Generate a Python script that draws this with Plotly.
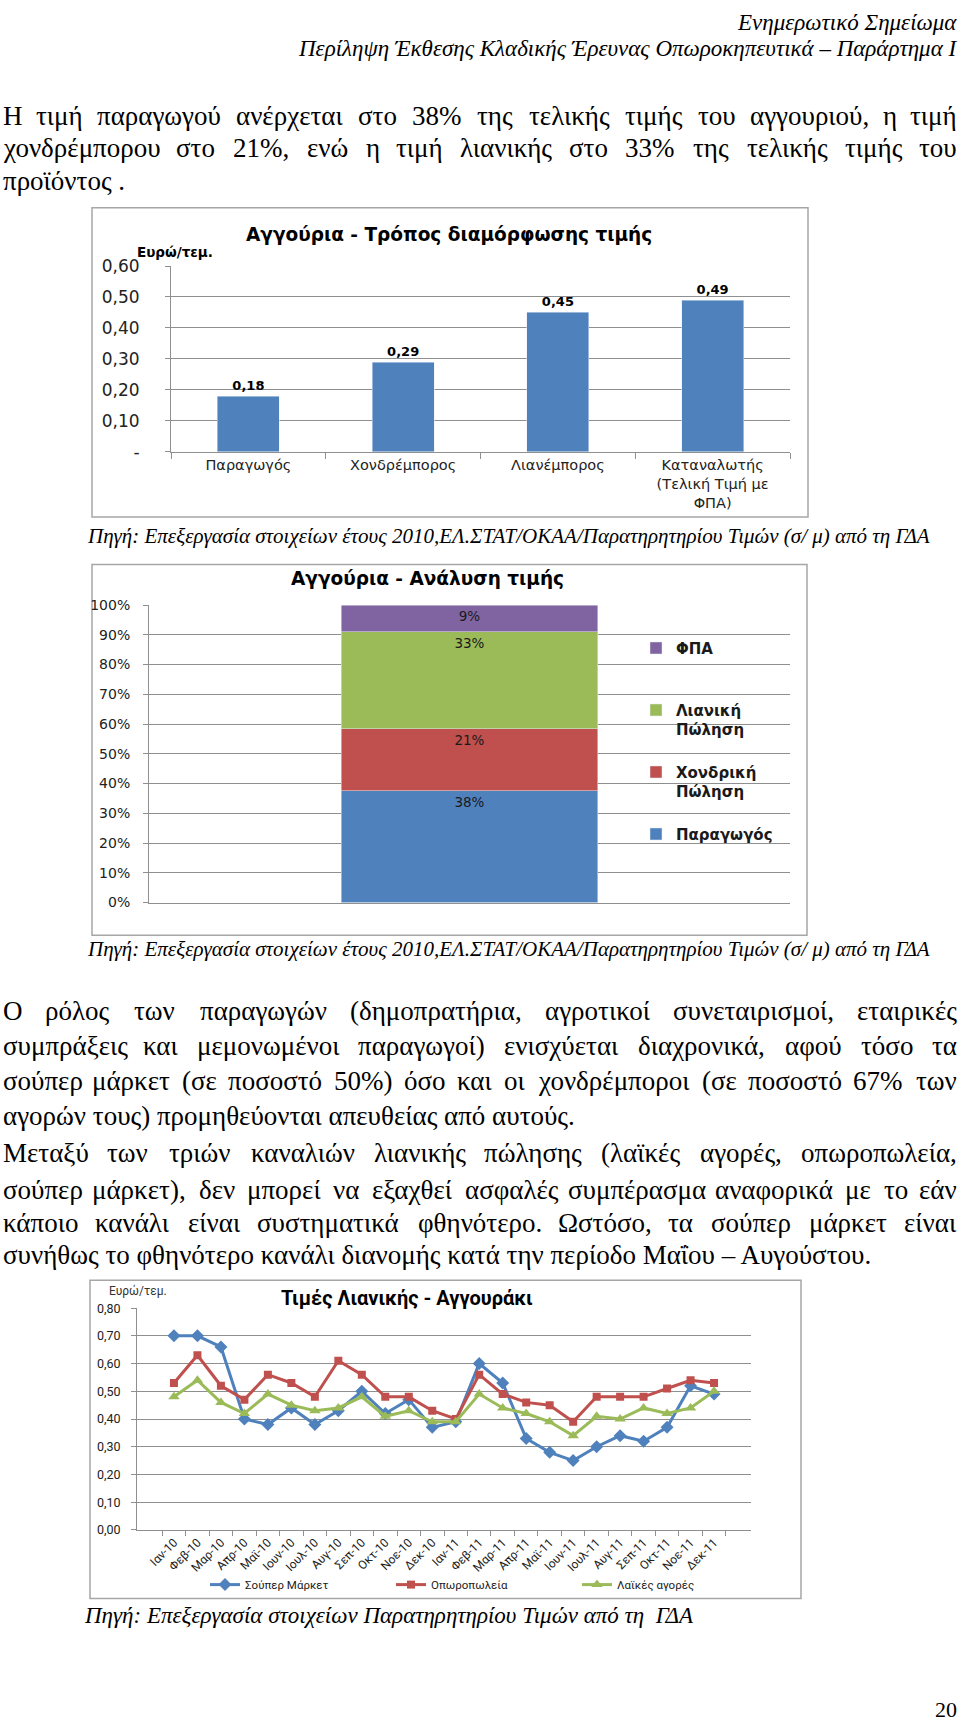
import plotly.graph_objects as go

W, H = 960, 1731
BLUE, RED, GREEN, PURPLE = '#4F81BD', '#C0504D', '#9BBB59', '#8064A2'
GRID = '#8f8f8f'
SERIF = 'Liberation Serif'
SANS = 'DejaVu Sans'
CALIBRI = 'Roboto'

# chart 1 - price build-up per piece
stages = ['Παραγωγός', 'Χονδρέμπορος', 'Λιανέμπορος', 'Καταναλωτής<br>(Τελική Τιμή με<br>ΦΠΑ)']
stage_price = [0.18, 0.29, 0.45, 0.49]
price_ticks = [0, 0.1, 0.2, 0.3, 0.4, 0.5, 0.6]
price_tick_text = ['-', '0,10', '0,20', '0,30', '0,40', '0,50', '0,60']

# chart 2 - breakdown of the final price
share_names = ['Παραγωγός<br> ', 'Χονδρική<br>Πώληση', 'Λιανική<br>Πώληση', 'ΦΠΑ<br> ']
share_values = [38, 21, 33, 9]
share_colors = [BLUE, RED, GREEN, PURPLE]
pct_ticks = [0, 10, 20, 30, 40, 50, 60, 70, 80, 90, 100]

# chart 3 - monthly retail prices
months = ['Ιαν-10', 'Φεβ-10', 'Μαρ-10', 'Απρ-10', 'Μαϊ-10', 'Ιουν-10', 'Ιουλ-10', 'Αυγ-10',
          'Σεπ-10', 'Οκτ-10', 'Νοε-10', 'Δεκ-10', 'Ιαν-11', 'Φεβ-11', 'Μαρ-11', 'Απρ-11',
          'Μαϊ-11', 'Ιουν-11', 'Ιουλ-11', 'Αυγ-11', 'Σεπ-11', 'Οκτ-11', 'Νοε-11', 'Δεκ-11']
super_market = [0.70, 0.70, 0.66, 0.40, 0.38, 0.44, 0.38, 0.43, 0.50, 0.42, 0.47, 0.37,
                0.39, 0.60, 0.53, 0.33, 0.28, 0.25, 0.30, 0.34, 0.32, 0.37, 0.52, 0.49]
fruit_shops = [0.53, 0.63, 0.52, 0.47, 0.56, 0.53, 0.48, 0.61, 0.56, 0.48, 0.48, 0.43,
               0.40, 0.56, 0.49, 0.46, 0.45, 0.39, 0.48, 0.48, 0.48, 0.51, 0.54, 0.53]
street_markets = [0.48, 0.54, 0.46, 0.42, 0.49, 0.45, 0.43, 0.44, 0.48, 0.41, 0.43, 0.39,
                  0.39, 0.49, 0.44, 0.42, 0.39, 0.34, 0.41, 0.40, 0.44, 0.42, 0.44, 0.50]

# page text
header = ['Ενημερωτικό Σημείωμα',
          'Περίληψη Έκθεσης Κλαδικής Έρευνας Οπωροκηπευτικά – Παράρτημα Ι']
para1 = ['Η τιμή παραγωγού ανέρχεται στο 38% της τελικής τιμής του αγγουριού, η τιμή',
         'χονδρέμπορου στο 21%, ενώ η τιμή λιανικής στο 33% της τελικής τιμής του',
         'προϊόντος .']
para2 = ['Ο ρόλος των παραγωγών (δημοπρατήρια, αγροτικοί συνεταιρισμοί, εταιρικές',
         'συμπράξεις και μεμονωμένοι παραγωγοί) ενισχύεται διαχρονικά, αφού τόσο τα',
         'σούπερ μάρκετ (σε ποσοστό 50%) όσο και οι χονδρέμποροι (σε ποσοστό 67% των',
         'αγορών τους) προμηθεύονται απευθείας από αυτούς.']
para3 = ['Μεταξύ των τριών καναλιών λιανικής πώλησης (λαϊκές αγορές, οπωροπωλεία,',
         'σούπερ μάρκετ), δεν μπορεί να εξαχθεί ασφαλές συμπέρασμα αναφορικά με το εάν',
         'κάποιο κανάλι είναι συστηματικά φθηνότερο. Ωστόσο, τα σούπερ μάρκετ είναι',
         'συνήθως το φθηνότερο κανάλι διανομής κατά την περίοδο Μαΐου – Αυγούστου.']
source_elstat = 'Πηγή: Επεξεργασία στοιχείων έτους 2010,ΕΛ.ΣΤΑΤ/ΟΚΑΑ/Παρατηρητηρίου Τιμών (σ/ μ) από τη ΓΔΑ'
source_gda = 'Πηγή: Επεξεργασία στοιχείων Παρατηρητηρίου Τιμών από τη  ΓΔΑ'
BODY = 27


def px(x):
    return x / W


def py(y):
    return 1 - y / H


# rough Times glyph widths (em) used to spread justified lines
EM = {}
for chars, w in [(' ,.', 0.25), ('ιίϊΐ', 0.27), ('()', 0.33), ('εέςζξτ', 0.43),
                 ('γχλνυύ', 0.46), ('φ', 0.63), ('ψ', 0.66), ('ωώ', 0.68),
                 ('ΗΟΔΑΧΣ', 0.72), ('%', 0.83), ('Μ', 0.89)]:
    for c in chars:
        EM[c] = w


def text(s, x, y, size, anchor='left', family=SERIF, **font):
    return dict(text=s, x=px(x), y=py(y), xref='paper', yref='paper', showarrow=False,
                xanchor=anchor, yanchor='middle', borderpad=0,
                font=dict(family=family, size=size, color=font.pop('color', 'black'), **font))


def justified(line, y, size=BODY, left=2, right=958):
    words = line.split(' ')
    widths = [size * sum(EM.get(c, 0.5) for c in wd) for wd in words]
    gap = (right - left - sum(widths)) / (len(words) - 1)
    out, x = [], left
    for i, (wd, w) in enumerate(zip(words, widths)):
        if i == 0:
            out.append(text(wd, left, y, size))
        elif i == len(words) - 1:
            out.append(text(wd, right, y, size, 'right'))
        else:
            out.append(text(wd, x + w / 2, y, size, 'center'))
        x += w + gap
    return out


fig = go.Figure()

fig.add_trace(go.Bar(
    x=stages, y=stage_price, xaxis='x', yaxis='y', width=0.4, marker_color=BLUE,
    texttemplate='%{y:.2f}', textposition='outside', cliponaxis=False, showlegend=False,
    textfont=dict(family=SANS, size=13, color='black', weight='bold')))

total = sum(share_values)
for rank, (name, v, c) in enumerate(zip(share_names, share_values, share_colors)):
    fig.add_trace(go.Bar(
        x=['Αγγούρια'], y=[v * 100 / total], text=[f'{v}%'], name=name, legendgroup=name,
        legendrank=10 - rank, xaxis='x2', yaxis='y2', width=0.4, marker_color=c, legend='legend',
        textposition='inside', insidetextanchor='end', textangle=0,
        textfont=dict(family=SANS, size=13.5, color='#1a1a1a')))

for name, vals, c, sym, size in [('Σούπερ Μάρκετ', super_market, BLUE, 'diamond', 10),
                                  ('Οπωροπωλεία', fruit_shops, RED, 'square', 8),
                                  ('Λαϊκές αγορές', street_markets, GREEN, 'triangle-up', 10)]:
    fig.add_trace(go.Scatter(
        x=months, y=vals, name=name, mode='lines+markers', xaxis='x3', yaxis='y3',
        line=dict(color=c, width=3), marker=dict(symbol=sym, size=size, color=c),
        legend='legend2'))

axis = dict(showline=True, linecolor=GRID, tickcolor=GRID, zeroline=False, fixedrange=True)

annotations = [
    text(header[0], 958, 13, 23, 'right', style='italic'),
    text(header[1], 958, 39, 23, 'right', style='italic'),
    text(para1[2], 2, 173, BODY),
    text(source_elstat, 86, 532, 21, style='italic'),
    text(source_elstat, 86, 950, 21, style='italic'),
    text(para2[3], 2, 1119, BODY),
    text(para3[3], 2, 1260, BODY),
    text(source_gda, 83, 1624, 23, style='italic'),
    text('20', 958, 1719, 22, 'right'),
    text('Αγγούρια - Τρόπος διαμόρφωσης τιμής', 449, 227, 18.5, 'center', SANS, weight='bold'),
    text('Ευρώ/τεμ.', 136, 245, 13.5, 'left', SANS, weight='bold'),
    text('Αγγούρια - Ανάλυση τιμής', 427, 575, 18.5, 'center', SANS, weight='bold'),
    text('Τιμές Λιανικής - Αγγουράκι', 407, 1303, 20, 'center', CALIBRI, weight='bold'),
    text('Ευρώ/τεμ.', 108, 1296, 12, 'left', CALIBRI, color='#333'),
]
for line, y in zip(para1[:2], [107, 140]):
    annotations += justified(line, y)
for line, y in zip(para2[:3], [1013, 1048, 1084]):
    annotations += justified(line, y)
for line, y in zip(para3[:3], [1156, 1194, 1227]):
    annotations += justified(line, y)

frames = [(92, 200, 808, 513), (92, 561, 807, 936), (90, 1285, 801, 1607)]
shapes = [dict(type='rect', xref='paper', yref='paper', x0=px(a), x1=px(c), y0=py(b), y1=py(d),
               line=dict(color='#a6a6a6', width=1.5), layer='below') for a, b, c, d in frames]

fig.update_layout(
    width=W, height=H, margin=dict(l=0, r=0, t=0, b=0),
    paper_bgcolor='white', plot_bgcolor='white',
    barmode='stack', separators=',.',
    annotations=annotations, shapes=shapes,
    xaxis=dict(axis, domain=[px(171), px(790)], anchor='y', ticks='outside', tickson='boundaries',
               ticklen=6, tickfont=dict(family=SANS, size=14.5, color='#222')),
    yaxis=dict(axis, domain=[py(447), py(259)], anchor='x', range=[0, 0.6],
               tickvals=price_ticks, ticktext=price_tick_text, showgrid=True, gridcolor=GRID,
               ticks='outside', ticklen=5, ticklabelstandoff=22,
               tickfont=dict(family=SANS, size=17, color='#222')),
    xaxis2=dict(axis, domain=[px(149), px(790)], anchor='y2', showticklabels=False),
    yaxis2=dict(axis, domain=[py(903), py(602)], anchor='x2', range=[0, 100], tickvals=pct_ticks,
                ticktext=[f'{v}%' for v in pct_ticks], showgrid=True, gridcolor=GRID,
                ticks='outside', ticklen=5, ticklabelstandoff=10,
                tickfont=dict(family=SANS, size=14, color='#222')),
    xaxis3=dict(axis, domain=[px(137), px(751)], anchor='y3', tickangle=-45, ticks='outside',
                tickson='boundaries', ticklen=5, tickfont=dict(family=CALIBRI, size=12, color='#222')),
    yaxis3=dict(axis, domain=[py(1537.7), py(1313.3)], anchor='x3', range=[0, 0.8], dtick=0.1,
                tickformat='.2f', showgrid=True, gridcolor=GRID, ticks='outside', ticklen=5,
                ticklabelstandoff=8, tickfont=dict(family=CALIBRI, size=12.5, color='#222')),
    legend=dict(x=px(636), y=py(629), xanchor='left', yanchor='top', bgcolor='rgba(0,0,0,0)',
                traceorder='grouped', tracegroupgap=20, valign='top',
                font=dict(family=SANS, size=15, color='#1a1a1a', weight='bold')),
    legend2=dict(orientation='h', x=px(205), y=py(1593), xanchor='left', yanchor='middle',
                 entrywidth=141, bgcolor='rgba(0,0,0,0)',
                 font=dict(family=CALIBRI, size=11.5, color='#222')),
)

fig.write_html('out.html', config={'displayModeBar': False},
               post_script="document.body.style.margin='0';"
                           "document.body.style.overflow='hidden';")
